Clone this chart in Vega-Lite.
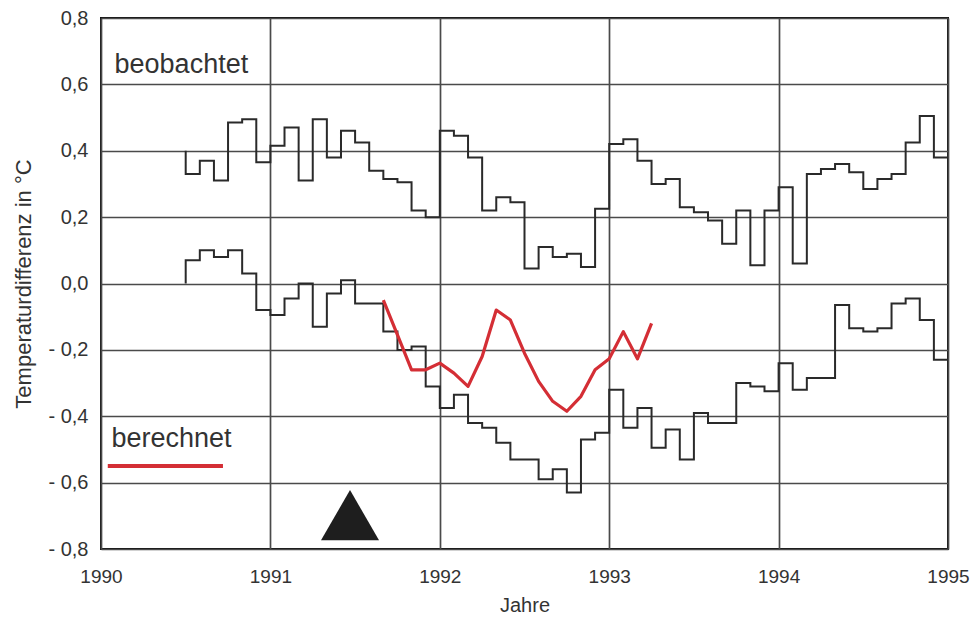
{
  "$schema": "https://vega.github.io/schema/vega-lite/v6.json",
  "width": 847,
  "height": 531,
  "autosize": {"type": "none"},
  "padding": {"left": 101, "top": 18, "right": 31, "bottom": 72},
  "config": {
    "font": "Liberation Sans",
    "view": {"stroke": "#111", "strokeWidth": 2},
    "axis": {
      "grid": true, "gridColor": "#4a4a4a", "gridWidth": 1.7, "domain": false,
      "ticks": false, "tickSize": 0, "labelFlush": false,
      "labelFont": "Liberation Sans", "labelColor": "#333", "labelFontSize": 19,
      "titleFont": "Liberation Sans", "titleColor": "#333", "titleFontWeight": "normal", "titleFontSize": 20
    }
  },
  "datasets": {
    "obs": [
      {"g": "oben", "i": 0, "t": 1990.5, "v": 0.4},
      {"g": "oben", "i": 6, "t": 1990.5, "v": 0.33},
      {"g": "oben", "i": 7, "t": 1990.5833, "v": 0.37},
      {"g": "oben", "i": 8, "t": 1990.6667, "v": 0.31},
      {"g": "oben", "i": 9, "t": 1990.75, "v": 0.485},
      {"g": "oben", "i": 10, "t": 1990.8333, "v": 0.495},
      {"g": "oben", "i": 11, "t": 1990.9167, "v": 0.365},
      {"g": "oben", "i": 12, "t": 1991.0, "v": 0.415},
      {"g": "oben", "i": 13, "t": 1991.0833, "v": 0.47},
      {"g": "oben", "i": 14, "t": 1991.1667, "v": 0.31},
      {"g": "oben", "i": 15, "t": 1991.25, "v": 0.495},
      {"g": "oben", "i": 16, "t": 1991.3333, "v": 0.38},
      {"g": "oben", "i": 17, "t": 1991.4167, "v": 0.46},
      {"g": "oben", "i": 18, "t": 1991.5, "v": 0.425},
      {"g": "oben", "i": 19, "t": 1991.5833, "v": 0.34},
      {"g": "oben", "i": 20, "t": 1991.6667, "v": 0.315},
      {"g": "oben", "i": 21, "t": 1991.75, "v": 0.305},
      {"g": "oben", "i": 22, "t": 1991.8333, "v": 0.22},
      {"g": "oben", "i": 23, "t": 1991.9167, "v": 0.2},
      {"g": "oben", "i": 24, "t": 1992.0, "v": 0.46},
      {"g": "oben", "i": 25, "t": 1992.0833, "v": 0.445},
      {"g": "oben", "i": 26, "t": 1992.1667, "v": 0.38},
      {"g": "oben", "i": 27, "t": 1992.25, "v": 0.22},
      {"g": "oben", "i": 28, "t": 1992.3333, "v": 0.26},
      {"g": "oben", "i": 29, "t": 1992.4167, "v": 0.245},
      {"g": "oben", "i": 30, "t": 1992.5, "v": 0.045},
      {"g": "oben", "i": 31, "t": 1992.5833, "v": 0.11},
      {"g": "oben", "i": 32, "t": 1992.6667, "v": 0.08},
      {"g": "oben", "i": 33, "t": 1992.75, "v": 0.09},
      {"g": "oben", "i": 34, "t": 1992.8333, "v": 0.05},
      {"g": "oben", "i": 35, "t": 1992.9167, "v": 0.225},
      {"g": "oben", "i": 36, "t": 1993.0, "v": 0.42},
      {"g": "oben", "i": 37, "t": 1993.0833, "v": 0.435},
      {"g": "oben", "i": 38, "t": 1993.1667, "v": 0.37},
      {"g": "oben", "i": 39, "t": 1993.25, "v": 0.3},
      {"g": "oben", "i": 40, "t": 1993.3333, "v": 0.315},
      {"g": "oben", "i": 41, "t": 1993.4167, "v": 0.23},
      {"g": "oben", "i": 42, "t": 1993.5, "v": 0.215},
      {"g": "oben", "i": 43, "t": 1993.5833, "v": 0.19},
      {"g": "oben", "i": 44, "t": 1993.6667, "v": 0.12},
      {"g": "oben", "i": 45, "t": 1993.75, "v": 0.22},
      {"g": "oben", "i": 46, "t": 1993.8333, "v": 0.055},
      {"g": "oben", "i": 47, "t": 1993.9167, "v": 0.22},
      {"g": "oben", "i": 48, "t": 1994.0, "v": 0.29},
      {"g": "oben", "i": 49, "t": 1994.0833, "v": 0.06},
      {"g": "oben", "i": 50, "t": 1994.1667, "v": 0.33},
      {"g": "oben", "i": 51, "t": 1994.25, "v": 0.345},
      {"g": "oben", "i": 52, "t": 1994.3333, "v": 0.36},
      {"g": "oben", "i": 53, "t": 1994.4167, "v": 0.335},
      {"g": "oben", "i": 54, "t": 1994.5, "v": 0.285},
      {"g": "oben", "i": 55, "t": 1994.5833, "v": 0.315},
      {"g": "oben", "i": 56, "t": 1994.6667, "v": 0.33},
      {"g": "oben", "i": 57, "t": 1994.75, "v": 0.425},
      {"g": "oben", "i": 58, "t": 1994.8333, "v": 0.505},
      {"g": "oben", "i": 59, "t": 1994.9167, "v": 0.38},
      {"g": "oben", "i": 60, "t": 1995.0, "v": 0.38},
      {"g": "unten", "i": 0, "t": 1990.5, "v": 0.0},
      {"g": "unten", "i": 6, "t": 1990.5, "v": 0.07},
      {"g": "unten", "i": 7, "t": 1990.5833, "v": 0.1},
      {"g": "unten", "i": 8, "t": 1990.6667, "v": 0.08},
      {"g": "unten", "i": 9, "t": 1990.75, "v": 0.1},
      {"g": "unten", "i": 10, "t": 1990.8333, "v": 0.03},
      {"g": "unten", "i": 11, "t": 1990.9167, "v": -0.08},
      {"g": "unten", "i": 12, "t": 1991.0, "v": -0.095},
      {"g": "unten", "i": 13, "t": 1991.0833, "v": -0.045},
      {"g": "unten", "i": 14, "t": 1991.1667, "v": 0.0},
      {"g": "unten", "i": 15, "t": 1991.25, "v": -0.13},
      {"g": "unten", "i": 16, "t": 1991.3333, "v": -0.03},
      {"g": "unten", "i": 17, "t": 1991.4167, "v": 0.01},
      {"g": "unten", "i": 18, "t": 1991.5, "v": -0.06},
      {"g": "unten", "i": 19, "t": 1991.5833, "v": -0.06},
      {"g": "unten", "i": 20, "t": 1991.6667, "v": -0.145},
      {"g": "unten", "i": 21, "t": 1991.75, "v": -0.2},
      {"g": "unten", "i": 22, "t": 1991.8333, "v": -0.19},
      {"g": "unten", "i": 23, "t": 1991.9167, "v": -0.31},
      {"g": "unten", "i": 24, "t": 1992.0, "v": -0.375},
      {"g": "unten", "i": 25, "t": 1992.0833, "v": -0.335},
      {"g": "unten", "i": 26, "t": 1992.1667, "v": -0.42},
      {"g": "unten", "i": 27, "t": 1992.25, "v": -0.435},
      {"g": "unten", "i": 28, "t": 1992.3333, "v": -0.48},
      {"g": "unten", "i": 29, "t": 1992.4167, "v": -0.53},
      {"g": "unten", "i": 30, "t": 1992.5, "v": -0.53},
      {"g": "unten", "i": 31, "t": 1992.5833, "v": -0.59},
      {"g": "unten", "i": 32, "t": 1992.6667, "v": -0.56},
      {"g": "unten", "i": 33, "t": 1992.75, "v": -0.63},
      {"g": "unten", "i": 34, "t": 1992.8333, "v": -0.47},
      {"g": "unten", "i": 35, "t": 1992.9167, "v": -0.45},
      {"g": "unten", "i": 36, "t": 1993.0, "v": -0.32},
      {"g": "unten", "i": 37, "t": 1993.0833, "v": -0.435},
      {"g": "unten", "i": 38, "t": 1993.1667, "v": -0.375},
      {"g": "unten", "i": 39, "t": 1993.25, "v": -0.495},
      {"g": "unten", "i": 40, "t": 1993.3333, "v": -0.44},
      {"g": "unten", "i": 41, "t": 1993.4167, "v": -0.53},
      {"g": "unten", "i": 42, "t": 1993.5, "v": -0.39},
      {"g": "unten", "i": 43, "t": 1993.5833, "v": -0.42},
      {"g": "unten", "i": 44, "t": 1993.6667, "v": -0.42},
      {"g": "unten", "i": 45, "t": 1993.75, "v": -0.3},
      {"g": "unten", "i": 46, "t": 1993.8333, "v": -0.31},
      {"g": "unten", "i": 47, "t": 1993.9167, "v": -0.325},
      {"g": "unten", "i": 48, "t": 1994.0, "v": -0.24},
      {"g": "unten", "i": 49, "t": 1994.0833, "v": -0.32},
      {"g": "unten", "i": 50, "t": 1994.1667, "v": -0.285},
      {"g": "unten", "i": 51, "t": 1994.25, "v": -0.285},
      {"g": "unten", "i": 52, "t": 1994.3333, "v": -0.065},
      {"g": "unten", "i": 53, "t": 1994.4167, "v": -0.135},
      {"g": "unten", "i": 54, "t": 1994.5, "v": -0.145},
      {"g": "unten", "i": 55, "t": 1994.5833, "v": -0.135},
      {"g": "unten", "i": 56, "t": 1994.6667, "v": -0.06},
      {"g": "unten", "i": 57, "t": 1994.75, "v": -0.045},
      {"g": "unten", "i": 58, "t": 1994.8333, "v": -0.11},
      {"g": "unten", "i": 59, "t": 1994.9167, "v": -0.23},
      {"g": "unten", "i": 60, "t": 1995.0, "v": -0.23}
    ],
    "calc": [
      {"t": 1991.6667, "v": -0.05},
      {"t": 1991.75, "v": -0.155},
      {"t": 1991.8333, "v": -0.26},
      {"t": 1991.9167, "v": -0.26},
      {"t": 1992.0, "v": -0.24},
      {"t": 1992.0833, "v": -0.27},
      {"t": 1992.1667, "v": -0.31},
      {"t": 1992.25, "v": -0.22},
      {"t": 1992.3333, "v": -0.08},
      {"t": 1992.4167, "v": -0.11},
      {"t": 1992.5, "v": -0.21},
      {"t": 1992.5833, "v": -0.295},
      {"t": 1992.6667, "v": -0.355},
      {"t": 1992.75, "v": -0.385},
      {"t": 1992.8333, "v": -0.34},
      {"t": 1992.9167, "v": -0.26},
      {"t": 1993.0, "v": -0.227},
      {"t": 1993.0833, "v": -0.145},
      {"t": 1993.1667, "v": -0.227},
      {"t": 1993.25, "v": -0.12}
    ],
    "labels": [
      {"t": 1990.08, "v": 0.633, "label": "beobachtet"},
      {"t": 1990.062, "v": -0.493, "label": "berechnet"}
    ],
    "legendline": [
      {"t": 1990.04, "t2": 1990.72, "v": -0.55}
    ],
    "eruption": [
      {"t": 1991.47, "v": -0.698}
    ]
  },
  "encoding": {
    "x": {
      "field": "t", "type": "quantitative",
      "scale": {"domain": [1990, 1995], "nice": false, "zero": false},
      "axis": {"values": [1990, 1991, 1992, 1993, 1994, 1995], "format": "d", "labelPadding": 18, "title": "Jahre", "titlePadding": 9}
    },
    "y": {
      "field": "v", "type": "quantitative",
      "scale": {"domain": [-0.8, 0.8], "nice": false, "zero": false},
      "axis": {
        "values": [-0.8, -0.6, -0.4, -0.2, 0, 0.2, 0.4, 0.6, 0.8],
        "labelExpr": "datum.value < -0.001 ? '- ' + replace(format(-datum.value, '.1f'), '.', ',') : replace(format(abs(datum.value), '.1f'), '.', ',')",
        "labelPadding": 13,
        "labelFontSize": 20,
        "title": "Temperaturdifferenz in °C",
        "titleFontSize": 22,
        "titlePadding": 12
      }
    }
  },
  "layer": [
    {
      "data": {"name": "obs"},
      "mark": {"type": "line", "interpolate": "step-after", "color": "#2a2a2a", "strokeWidth": 2},
      "encoding": {"detail": {"field": "g"}, "order": {"field": "i", "type": "quantitative"}}
    },
    {
      "data": {"name": "calc"},
      "mark": {"type": "line", "color": "#d42e35", "strokeWidth": 3.2, "strokeJoin": "round"},
      "encoding": {}
    },
    {
      "data": {"name": "legendline"},
      "mark": {"type": "rule", "color": "#d42e35", "strokeWidth": 4},
      "encoding": {"x2": {"field": "t2"}}
    },
    {
      "data": {"name": "labels"},
      "mark": {"type": "text", "align": "left", "baseline": "alphabetic", "fontSize": 27, "color": "#333", "font": "Liberation Sans"},
      "encoding": {"text": {"field": "label"}}
    },
    {
      "data": {"name": "eruption"},
      "mark": {"type": "point", "shape": "triangle-up", "filled": true, "size": 3364, "color": "#1e1e1e", "opacity": 1, "strokeWidth": 0}
    }
  ]
}
